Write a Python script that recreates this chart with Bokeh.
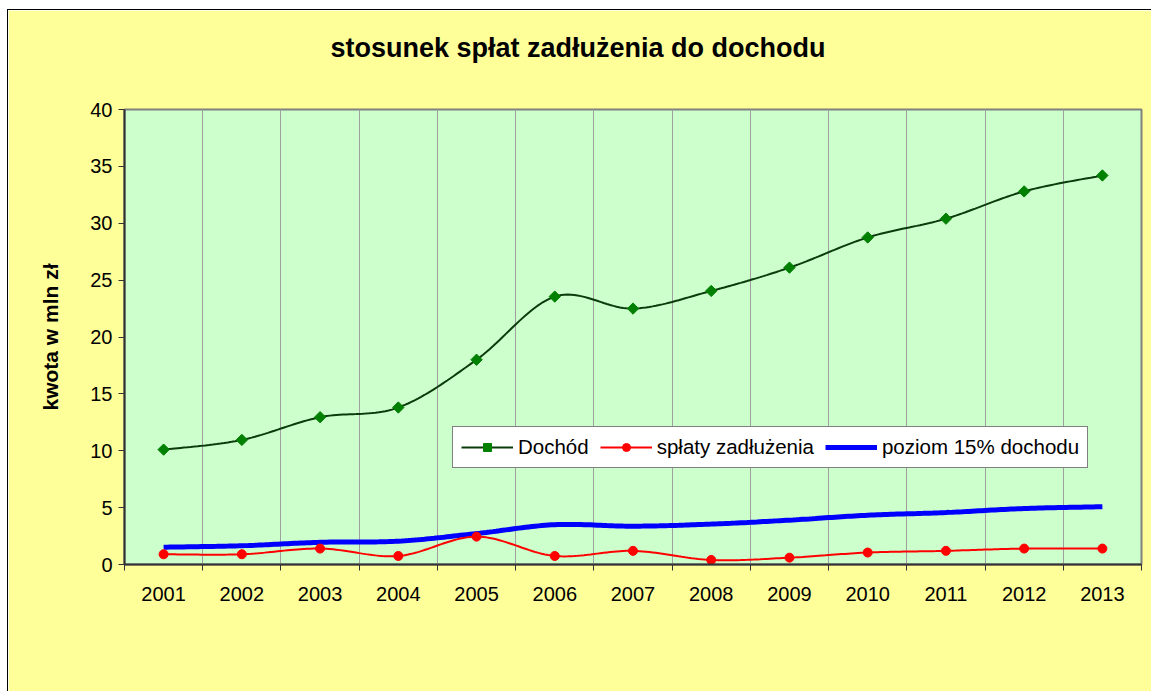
import numpy as np
from bokeh.plotting import figure
from bokeh.models import (Range1d, FixedTicker, Legend, LegendItem)
from bokeh.embed import file_html
from bokeh.resources import INLINE

# ---- data ----
years = ["2001", "2002", "2003", "2004", "2005", "2006", "2007",
         "2008", "2009", "2010", "2011", "2012", "2013"]
dochod = [10.1, 10.95, 12.95, 13.8, 18.0, 23.55, 22.5, 24.05, 26.1, 28.75, 30.4, 32.8, 34.2]
splaty = [0.9, 0.9, 1.4, 0.75, 2.45, 0.75, 1.2, 0.4, 0.6, 1.05, 1.2, 1.4, 1.4]
poziom15 = [1.52, 1.65, 1.95, 2.05, 2.72, 3.5, 3.37, 3.55, 3.9, 4.33, 4.57, 4.92, 5.08]

title_text = "stosunek spłat zadłużenia do dochodu"
y_label = "kwota w mln zł"
legend_labels = ["Dochód", "spłaty zadłużenia", "poziom 15% dochodu"]

FONT = "Liberation Sans"
idx = list(range(1, len(years) + 1))


def smooth(xs, ys, n=24):
    """Excel-like smoothed line (Catmull-Rom style Bezier)."""
    xs = np.asarray(xs, float)
    ys = np.asarray(ys, float)
    px = np.concatenate([[xs[0]], xs, [xs[-1]]])
    py = np.concatenate([[ys[0]], ys, [ys[-1]]])
    ox, oy = [], []
    for i in range(1, len(px) - 2):
        p0 = np.array([px[i - 1], py[i - 1]])
        p1 = np.array([px[i], py[i]])
        p2 = np.array([px[i + 1], py[i + 1]])
        p3 = np.array([px[i + 2], py[i + 2]])
        c1 = p1 + (p2 - p0) / 6.0
        c2 = p2 - (p3 - p1) / 6.0
        t = np.linspace(0, 1, n, endpoint=(i == len(px) - 3))
        b = ((1 - t) ** 3)[:, None] * p1 + (3 * (1 - t) ** 2 * t)[:, None] * c1 \
            + (3 * (1 - t) * t ** 2)[:, None] * c2 + (t ** 3)[:, None] * p2
        ox.extend(b[:, 0])
        oy.extend(b[:, 1])
    return ox, oy


p = figure(width=1144, height=682, output_backend="svg", toolbar_location=None,
           x_range=Range1d(0.5, 13.5), y_range=Range1d(0, 40),
           min_border_left=116, min_border_right=11, min_border_top=99, min_border_bottom=128,
           background_fill_color="#CCFFCC", border_fill_color="#FFFF99",
           styles={"margin-left": "7px", "margin-top": "9px",
                   "border-left": "1px solid #000000", "border-top": "1px solid #000000"})

p.outline_line_color = "#808080"
p.outline_line_width = 2

# title (second, empty line keeps it high above the plot area)
p.title.text = title_text + "\n "
p.title.text_font = FONT
p.title.text_font_size = "27px"
p.title.text_font_style = "bold"
p.title.text_color = "#000000"
p.title.align = "left"
p.title.offset = 206
p.title.standoff = 34

# x axis (categories)
xt = FixedTicker(ticks=idx, minor_ticks=[i + 0.5 for i in range(0, len(years) + 1)])
p.xaxis.ticker = xt
p.xaxis.major_label_overrides = {i: y for i, y in zip(idx, years)}
p.xaxis.major_tick_line_color = None
p.xaxis.minor_tick_in = 0
p.xaxis.minor_tick_out = 6
p.xaxis.minor_tick_line_color = "#333333"
p.xaxis.minor_tick_line_width = 1
p.xaxis.axis_line_color = "#333333"
p.xaxis.axis_line_width = 2
p.xaxis.major_label_text_font = FONT
p.xaxis.major_label_text_font_size = "20px"
p.xaxis.major_label_text_color = "#000000"
p.xaxis.major_label_standoff = 16

p.xgrid.ticker = xt
p.xgrid.grid_line_color = None
p.xgrid.minor_grid_line_color = "#A0A0A0"
p.xgrid.minor_grid_line_width = 1
p.ygrid.grid_line_color = None

# y axis
p.yaxis.ticker = FixedTicker(ticks=list(range(0, 41, 5)), minor_ticks=[])
p.yaxis.major_tick_in = 0
p.yaxis.major_tick_out = 6
p.yaxis.major_tick_line_color = "#333333"
p.yaxis.axis_line_color = "#333333"
p.yaxis.axis_line_width = 2
p.yaxis.major_label_text_font = FONT
p.yaxis.major_label_text_font_size = "20px"
p.yaxis.major_label_text_color = "#000000"
p.yaxis.major_label_standoff = 6
p.yaxis.axis_label = y_label
p.yaxis.axis_label_text_font = FONT
p.yaxis.axis_label_text_font_size = "21px"
p.yaxis.axis_label_text_font_style = "bold"
p.yaxis.axis_label_text_color = "#000000"
p.yaxis.axis_label_standoff = 25

# series
bx, by = smooth(idx, poziom15)
r_blue = p.line(bx, by, line_color="#0000FF", line_width=5)

rx, ry = smooth(idx, splaty)
r_red = p.line(rx, ry, line_color="#FF0000", line_width=2)
r_red_m = p.scatter(idx, splaty, marker="circle", size=9, fill_color="#FF0000", line_color="#FF0000")

gx, gy = smooth(idx, dochod)
r_green = p.line(gx, gy, line_color="#0B3B0B", line_width=2)
r_green_m = p.scatter(idx, dochod, marker="square", angle=np.pi / 4, size=8,
                      fill_color="#008000", line_color="#008000")

legend = Legend(items=[
    LegendItem(label=legend_labels[0], renderers=[r_green, r_green_m]),
    LegendItem(label=legend_labels[1], renderers=[r_red, r_red_m]),
    LegendItem(label=legend_labels[2], renderers=[r_blue]),
], orientation="horizontal", location=(328, 96))
legend.label_text_font = FONT
legend.label_text_font_size = "20.5px"
legend.label_text_color = "#000000"
legend.glyph_width = 52
legend.glyph_height = 20
legend.label_standoff = 5
legend.spacing = 11
legend.padding = 8
legend.margin = 0
legend.border_line_color = "#000000"
legend.border_line_width = 1
legend.background_fill_color = "#FFFFFF"
legend.background_fill_alpha = 1.0
p.add_layout(legend, "center")

open("out.html", "w").write(file_html(p, INLINE))
